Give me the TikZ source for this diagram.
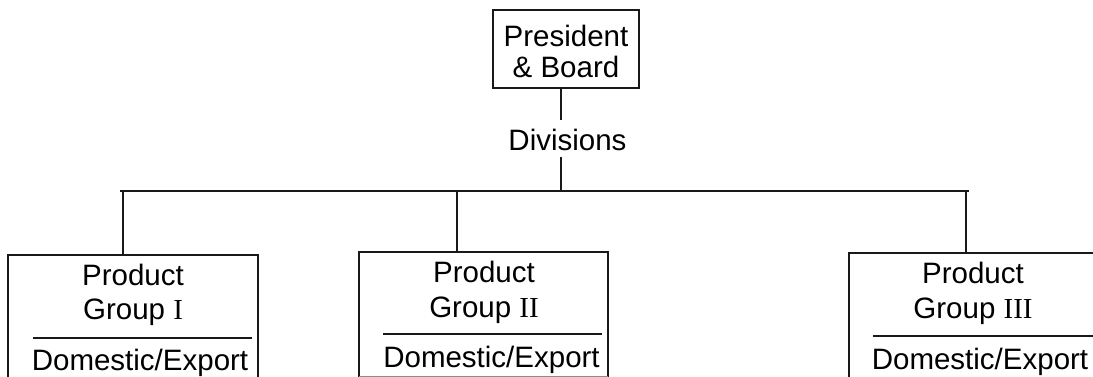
\documentclass[tikz,border=0pt]{standalone}
\usepackage{fontspec}
\newfontfamily\labfont{Liberation Sans}
\newfontfamily\numfont{Liberation Serif}
\newcommand{\rnum}[1]{{\numfont\fontsize{29}{31}\selectfont #1}}
\begin{document}
\begin{tikzpicture}[x=1pt,y=-1pt,
  lbl/.style={font=\labfont\fontsize{29.5}{31}\selectfont, anchor=base, inner sep=0pt},
  boxline/.style={draw=black!90, line width=2pt},
  conn/.style={draw=black!90, line width=2.2pt},
  sepline/.style={draw=black!90, line width=2pt}]
\useasboundingbox (0,0) rectangle (1093,377);

% top box
\draw[boxline] (493,10) rectangle (639,88);
\coordinate (presS) at (561,88);
\node[lbl] (presA) at (566,47) {President};
\node[lbl] (presB) at (566,78) {\& Board};

% divisions label and trunk
\node[lbl] (div) at (567.5,151) {Divisions};
\coordinate (divN) at (561,120);
\coordinate (divS) at (561,157);
\coordinate (trunk) at (561,190.7);
\draw[conn] (presS) -- (divN);
\draw[conn] (divS) -- (trunk);

% horizontal bar
\coordinate (barL) at (120,190.7);
\coordinate (barR) at (969,190.7);
\draw[conn] (barL) -- (barR);

% product group boxes (open towards the bottom)
\draw[boxline] (8,380) -- (8,255) -- (258,255) -- (258,380);
\draw[boxline] (359,377) -- (359,252) -- (608,252) -- (608,377);
\draw[draw=black!45, line width=1.2pt] (359,376.5) -- (608,376.5);
\draw[boxline] (849,380) -- (849,253) -- (1100,253);

\coordinate (g1) at (123,255);
\coordinate (g2) at (457,252);
\coordinate (g3) at (966,253);
\draw[conn] (g1 |- barL) -- (g1);
\draw[conn] (g2 |- barL) -- (g2);
\draw[conn] (g3 |- barL) -- (g3);

% group I
\node[lbl] (p1) at (133,285) {Product};
\node[lbl] (q1) at (133,319) {Group \rnum{I}};
\draw[sepline] (33,338) -- (252,338);
\node[lbl] (e1) at (140,370) {Domestic/Export};

% group II
\node[lbl] (p2) at (484,282) {Product};
\node[lbl] (q2) at (484,317) {Group \rnum{II}};
\draw[sepline] (383,334) -- (602,334);
\node[lbl] (e2) at (491.5,367) {Domestic/Export};

% group III
\node[lbl] (p3) at (973,283) {Product};
\node[lbl] (q3) at (973,318) {Group \rnum{III}};
\draw[sepline] (873,336) -- (1100,336);
\node[lbl] (e3) at (980,369) {Domestic/Export};
\end{tikzpicture}
\end{document}
